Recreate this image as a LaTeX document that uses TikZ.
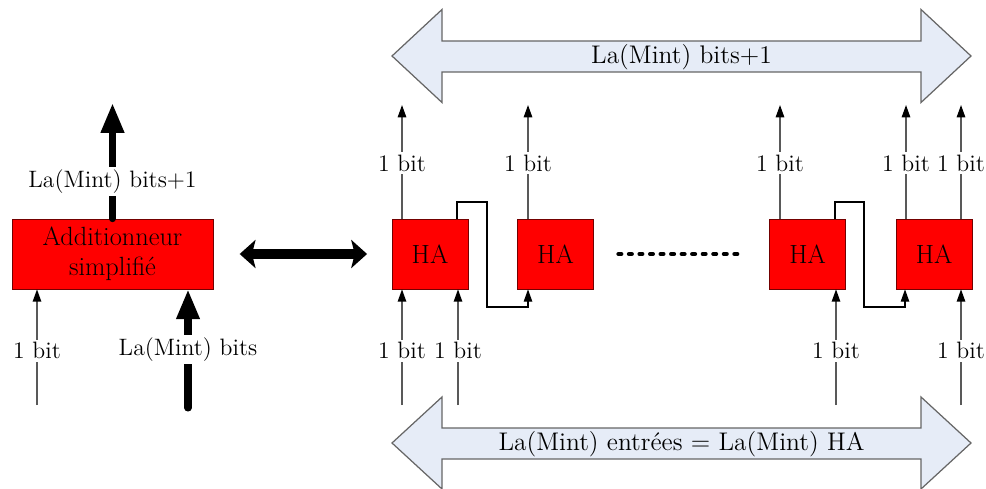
\documentclass[tikz,border=0pt]{standalone}
\usetikzlibrary{arrows.meta}
\definecolor{bleuclair}{RGB}{230,236,247}
\tikzset{
  bloc/.style={draw=red!45!black, fill=red, inner sep=0pt, align=center, minimum height=1.4cm, font=\fontsize{15}{17}\selectfont},
  ha/.style={bloc, minimum width=1.52cm},
  lbl/.style={fill=white, inner sep=1.5pt},
  fil/.style={draw=black!65, line width=0.8pt, -{Triangle[width=4.8pt,length=7pt,color=black]}},
  ret/.style={draw=black, line width=0.7pt, -{Triangle[width=4.8pt,length=7pt]}},
  gros/.style={line width=4pt, line cap=round, -{Triangle[width=12.5pt,length=17pt]}},
  dbl/.style={line width=5.5pt, {Stealth[width=16pt,length=9pt,inset=2pt]}-{Stealth[width=16pt,length=9pt,inset=2pt]}},
  fleche/.style={draw=black!60, fill=bleuclair, line width=0.7pt},
  pointilles/.style={line width=2.4pt, line cap=round, dash pattern=on 1.6pt off 4.4pt}
}
\begin{document}
\begin{tikzpicture}[x=0.02cm, y=-0.02cm, font=\fontsize{13.5}{16}\selectfont]
    \useasboundingbox (0,0) rectangle (986,489);

    % grandes flèches
    \draw[fleche] (392,56) -- (442,9.5) -- (442,41) -- (921,41) -- (921,9.5) -- (971,56)
        -- (921,102.5) -- (921,72) -- (442,72) -- (442,102.5) -- cycle;
    \node[font=\fontsize{14.5}{17}\selectfont] (sortie) at (681.5,57) {La(Mint) bits+1};
    \draw[fleche] (392,443) -- (442,397) -- (442,428) -- (921,428) -- (921,397) -- (971,443)
        -- (921,489) -- (921,459) -- (442,459) -- (442,489) -- cycle;
    \node[font=\fontsize{14.5}{17}\selectfont] (entree) at (681.5,444) {La(Mint) entrées = La(Mint) HA};

    % blocs
    \node[bloc, minimum width=4.02cm] (add) at (112.5,254) {Additionneur\\simplifié};
    \node[ha] (ha1) at (430,254) {HA};
    \node[ha] (ha2) at (555.5,254) {HA};
    \node[ha] (ha3) at (807.5,254) {HA};
    \node[ha] (ha4) at (934,254) {HA};

    % additionneur simplifié
    \coordinate (a1) at (37,405);
    \coordinate (a2) at (188,408);
    \coordinate (s0) at (112.5,103);
    \draw[fil] (a1) -- (a1 |- add.south) node[lbl, pos=0.47] {1 bit};
    \draw[gros] (a2) -- (a2 |- add.south) node[lbl, pos=0.49] {La(Mint) bits};
    \draw[gros] (add.north) -- (s0) node[lbl, pos=0.32] {La(Mint) bits+1};

    \draw[dbl, shorten <=15pt, shorten >=14pt] (add.east) -- (ha1.west);

    % sorties des HA
    \foreach \n/\x [count=\i] in {ha1/402, ha2/528, ha3/780, ha4/906, ha4/961} {
        \coordinate (o\i) at (\x,105);
        \draw[fil] (\n.north -| o\i) -- (o\i) node[lbl, pos=0.49] {1 bit};
    }
    % entrées des HA
    \foreach \n/\x [count=\i] in {ha1/402, ha1/458, ha3/836, ha4/961} {
        \coordinate (e\i) at (\x,405);
        \draw[fil] (e\i) -- (\n.south -| e\i) node[lbl, pos=0.47] {1 bit};
    }

    % retenues
    \draw[ret] (ha1.north -| 457,0) |- (487,202) -- (487,307) -| (ha2.south -| 528,0);
    \draw[ret] (ha3.north -| 835,0) |- (864,202) -- (864,307) -| (ha4.south -| 905,0);

    \draw[pointilles, shorten <=14pt, shorten >=17pt] (ha2.east) -- (ha3.west);
\end{tikzpicture}
\end{document}
